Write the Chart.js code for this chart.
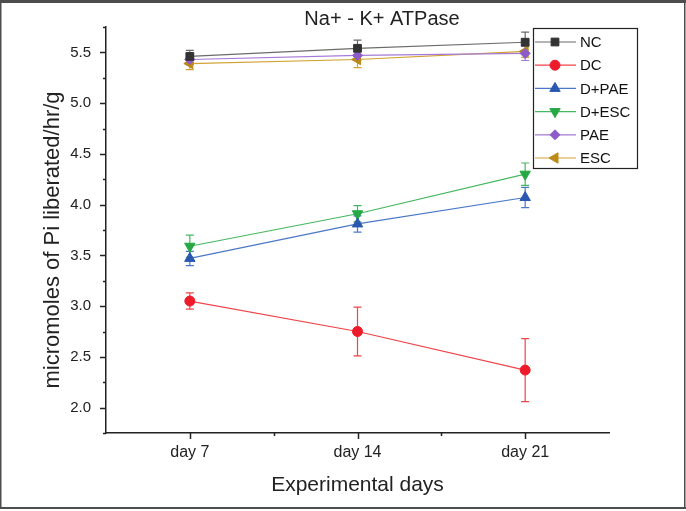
<!DOCTYPE html>
<html lang="en">
<head>
<meta charset="UTF-8">
<title>Na+ - K+ ATPase</title>
<script src="https://cdn.jsdelivr.net/npm/chart.js"></script>
<style>
  html, body { margin: 0; padding: 0; background: #fff; }
  #wrap { width: 686px; height: 511px; }
</style>
</head>
<body>
<div id="wrap"><canvas id="chart" width="686" height="511"></canvas></div>
<script>
// categories on the x axis (placed at 1, 2, 3)
const days = ['day 7', 'day 14', 'day 21'];
const dayPos = [1, 2, 3];

// group means and error bars (micromoles Pi / hr / g)
const ncValues = [5.46, 5.54, 5.60];
const ncErrors = [0.06, 0.08, 0.10];
const dcValues = [3.05, 2.75, 2.37];
const dcErrors = [0.08, 0.24, 0.31];
const dpaeValues = [3.47, 3.81, 4.07];
const dpaeErrors = [0.07, 0.08, 0.10];
const descValues = [3.59, 3.91, 4.30];
const descErrors = [0.11, 0.08, 0.11];
const paeValues = [5.43, 5.47, 5.49];
const paeErrors = [0.05, 0.05, 0.07];
const escValues = [5.39, 5.43, 5.51];
const escErrors = [0.06, 0.08, 0.06];

const series = [
  { name: 'NC',    values: ncValues,   errors: ncErrors,   line: '#6b6b6b', fill: '#333333', style: 'rect',     rot: 0,   r: 5.5 },
  { name: 'DC',    values: dcValues,   errors: dcErrors,   line: '#f0444a', fill: '#ee1c2a', style: 'circle',   rot: 0,   r: 5 },
  { name: 'D+PAE', values: dpaeValues, errors: dpaeErrors, line: '#4a78c8', fill: '#2a58b0', style: 'triangle', rot: 0,   r: 6 },
  { name: 'D+ESC', values: descValues, errors: descErrors, line: '#45b860', fill: '#26a844', style: 'triangle', rot: 180, r: 6 },
  { name: 'PAE',   values: paeValues,  errors: paeErrors,  line: '#a47ad6', fill: '#8e5cc8', style: 'rectRot',  rot: 0,   r: 5 },
  { name: 'ESC',   values: escValues,  errors: escErrors,  line: '#d2a232', fill: '#bb8a18', style: 'triangle', rot: -90, r: 6 }
];

const FONT = '"Liberation Sans", Arial, sans-serif';

function drawMarker(ctx, s, x, y) {
  ctx.save();
  ctx.fillStyle = s.fill;
  ctx.strokeStyle = s.fill;
  ctx.lineWidth = 1;
  if (Chart.helpers && Chart.helpers.drawPoint) {
    Chart.helpers.drawPoint(ctx, { pointStyle: s.style, rotation: s.rot, radius: s.r, borderWidth: 1 }, x, y);
  } else {
    ctx.beginPath(); ctx.arc(x, y, s.r, 0, Math.PI * 2); ctx.fill();
  }
  ctx.restore();
}

const framePlugin = {
  id: 'frame',
  beforeDraw(chart) {
    const ctx = chart.ctx;
    ctx.save();
    ctx.fillStyle = '#fff';
    ctx.fillRect(0, 0, chart.width, chart.height);
    ctx.restore();
  },
  afterDraw(chart) {
    const ctx = chart.ctx;
    ctx.save();
    ctx.fillStyle = '#4d4d4d';
    ctx.fillRect(0, 0, chart.width, 3);
    ctx.fillRect(0, chart.height - 4, chart.width, 2);
    ctx.fillRect(0, 0, 1.5, chart.height - 2);
    ctx.fillRect(chart.width - 2, 0, 1.5, chart.height - 2);
    ctx.restore();
  }
};

// titles placed where the original figure has them
const titlePlugin = {
  id: 'titles',
  afterDraw(chart) {
    const ctx = chart.ctx;
    const a = chart.chartArea;
    ctx.save();
    ctx.fillStyle = '#222';
    ctx.textAlign = 'center';
    ctx.textBaseline = 'middle';
    ctx.font = '20px ' + FONT;
    ctx.fillText('Na+ - K+ ATPase', 382, 19);
    ctx.font = '21px ' + FONT;
    ctx.fillText('Experimental days', (a.left + a.right) / 2, 485);
    ctx.font = '22px ' + FONT;
    ctx.translate(53, 240);
    ctx.rotate(-Math.PI / 2);
    ctx.fillText('micromoles of Pi liberated/hr/g', 0, 0);
    ctx.restore();
  }
};

const errorBarPlugin = {
  id: 'errorBars',
  beforeDatasetsDraw(chart) {
    const ctx = chart.ctx;
    const xs = chart.scales.x, ys = chart.scales.y;
    ctx.save();
    ctx.lineWidth = 1.2;
    series.forEach(s => {
      ctx.strokeStyle = s.line;
      s.values.forEach((v, j) => {
        const px = xs.getPixelForValue(dayPos[j]);
        const top = ys.getPixelForValue(v + s.errors[j]);
        const bot = ys.getPixelForValue(v - s.errors[j]);
        ctx.beginPath();
        ctx.moveTo(px, top); ctx.lineTo(px, bot);
        ctx.moveTo(px - 4, top); ctx.lineTo(px + 4, top);
        ctx.moveTo(px - 4, bot); ctx.lineTo(px + 4, bot);
        ctx.stroke();
      });
    });
    ctx.restore();
  }
};

const tickPlugin = {
  id: 'axisTicks',
  afterDraw(chart) {
    const ctx = chart.ctx;
    const xs = chart.scales.x, ys = chart.scales.y;
    const a = chart.chartArea;
    ctx.save();
    ctx.strokeStyle = '#222';
    ctx.lineWidth = 1.5;
    ctx.beginPath();
    for (let k = 0; k <= 16; k++) {
      const v = 1.75 + k * 0.25;
      const py = Math.round(ys.getPixelForValue(v)) + 0.5;
      const len = (k % 2 === 1) ? 6 : 3;
      ctx.moveTo(a.left - len, py); ctx.lineTo(a.left, py);
    }
    [1, 1.5, 2, 2.5, 3].forEach(v => {
      const px = Math.round(xs.getPixelForValue(v)) + 0.5;
      const len = Number.isInteger(v) ? 6 : 3;
      ctx.moveTo(px, a.bottom); ctx.lineTo(px, a.bottom + len);
    });
    ctx.stroke();
    ctx.restore();
  }
};

const legendPlugin = {
  id: 'boxLegend',
  afterDraw(chart) {
    const ctx = chart.ctx;
    const left = 533, top = 28, right = 637, bottom = 168;
    ctx.save();
    ctx.fillStyle = '#fff';
    ctx.fillRect(left, top, right - left, bottom - top);
    ctx.strokeStyle = '#222';
    ctx.lineWidth = 1.2;
    ctx.strokeRect(left + 0.5, top + 0.5, right - left, bottom - top);
    ctx.font = '15px ' + FONT;
    ctx.textBaseline = 'middle';
    series.forEach((s, i) => {
      const y = 42 + i * 23.2;
      ctx.strokeStyle = s.line;
      ctx.lineWidth = 1.2;
      ctx.beginPath();
      ctx.moveTo(left + 2, y); ctx.lineTo(left + 43, y);
      ctx.stroke();
      drawMarker(ctx, s, left + 22, y);
      ctx.fillStyle = '#111';
      ctx.fillText(s.name, left + 47, y + 1);
    });
    ctx.restore();
  }
};

const datasets = series.map(s => ({
  label: s.name,
  data: s.values.map((v, j) => ({ x: dayPos[j], y: v })),
  borderColor: s.line,
  borderWidth: 1.2,
  backgroundColor: s.fill,
  pointBackgroundColor: s.fill,
  pointBorderColor: s.fill,
  pointBorderWidth: 1,
  pointStyle: s.style,
  pointRotation: s.rot,
  pointRadius: s.r,
  showLine: true,
  fill: false,
  tension: 0
}));

new Chart(document.getElementById('chart'), {
  type: 'line',
  data: { datasets: datasets },
  options: {
    responsive: false,
    animation: false,
    devicePixelRatio: 1,
    layout: { padding: { left: 0, right: 77, top: 27, bottom: 0 } },
    plugins: {
      legend: { display: false },
      tooltip: { enabled: false },
      title: { display: false }
    },
    scales: {
      x: {
        type: 'linear',
        min: 0.5,
        max: 3.5,
        afterFit: s => { s.height = 78; },
        grid: { display: false, drawTicks: false, tickLength: 0 },
        border: { display: true, color: '#222', width: 1.5 },
        ticks: {
          stepSize: 0.5,
          autoSkip: false,
          maxRotation: 0,
          padding: 10,
          color: '#222',
          font: { family: FONT, size: 16 },
          callback: v => (Number.isInteger(v) && v >= 1 && v <= 3) ? days[v - 1] : ''
        }
      },
      y: {
        min: 1.75,
        max: 5.75,
        afterFit: s => { s.width = 106; },
        grid: { display: false, drawTicks: false, tickLength: 0 },
        border: { display: true, color: '#222', width: 1.5 },
        ticks: {
          stepSize: 0.25,
          autoSkip: false,
          padding: 15,
          color: '#222',
          font: { family: FONT, size: 15 },
          callback: v => {
            const twice = Math.round(v * 2);
            return (Math.abs(v * 2 - twice) < 1e-6) ? v.toFixed(1) : '';
          }
        }
      }
    }
  },
  plugins: [framePlugin, errorBarPlugin, tickPlugin, legendPlugin, titlePlugin]
});
</script>
</body>
</html>
